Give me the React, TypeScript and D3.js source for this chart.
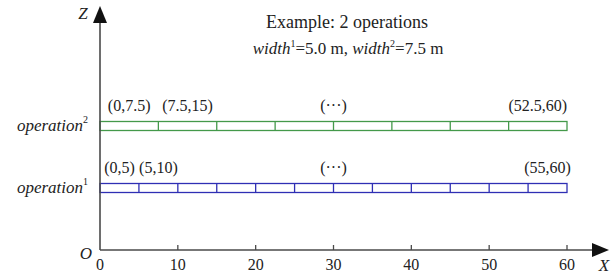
import React from 'react';
import * as d3 from 'd3';

// data
const opNames = ['operation', 'operation'];
const opIndex = [1, 2];
const opWidths = [5.0, 7.5];
const opColors = ['#2f2fb4', '#44994a'];
const opLabels = [
  ['(0,5)', '(5,10)', '(\u00b7\u00b7\u00b7)', '(55,60)'],
  ['(0,7.5)', '(7.5,15)', '(\u00b7\u00b7\u00b7)', '(52.5,60)'],
];
const xTicks = [0, 10, 20, 30, 40, 50, 60];
const X_MAX = 60;

const W = 614;
const H = 274;
const FONT = "'Liberation Serif', 'DejaVu Serif', 'Times New Roman', serif";
const AXIS = '#4a4a4a';

export default function App() {
  const x = d3.scaleLinear().domain([0, X_MAX]).range([100, 567]);
  const z = d3.scaleLinear().domain([0, 2]).range([250, 126]);
  const barH = 9;
  const x0 = x(0);
  const y0 = z(0);

  return (
    <svg width={W} height={H} style={{ position: 'absolute', left: 0, top: 0, fontFamily: FONT }}>
      <rect width={W} height={H} fill="#fff" />

      {/* title */}
      <text x={347} y={28} fontSize={18} textAnchor="middle" fill="#222">Example: 2 operations</text>
      <text x={348} y={54} fontSize={17} textAnchor="middle" fill="#222">
        <tspan fontStyle="italic">width</tspan>
        <tspan fontSize={10} dy={-7}>1</tspan>
        <tspan dy={7}>=5.0 m, </tspan>
        <tspan fontStyle="italic">width</tspan>
        <tspan fontSize={10} dy={-7}>2</tspan>
        <tspan dy={7}>=7.5 m</tspan>
      </text>

      {/* operations */}
      {opIndex.map((k, i) => {
        const w = opWidths[i];
        const n = Math.round(X_MAX / w);
        const bounds = d3.range(1, n).map(j => j * w);
        const cy = z(k);
        const top = cy - barH / 2;
        const labs = opLabels[i];
        const centers = [w / 2, w * 1.5, X_MAX / 2, X_MAX - w / 2];
        return (
          <g key={k}>
            <rect x={x(0)} y={top} width={x(X_MAX) - x(0)} height={barH}
              fill="none" stroke={opColors[i]} strokeWidth={1.3} />
            {bounds.map(b => (
              <line key={b} x1={x(b)} x2={x(b)} y1={top} y2={top + barH}
                stroke={opColors[i]} strokeWidth={1.3} />
            ))}
            {labs.map((t, j) => (
              <text key={j} x={x(centers[j])} y={top - 11} fontSize={16}
                textAnchor="middle" fill="#222">{t}</text>
            ))}
            <text x={88} y={cy + 5} fontSize={17} textAnchor="end" fill="#222">
              <tspan fontStyle="italic">{opNames[i]}</tspan>
              <tspan fontSize={10} dy={-8}>{k}</tspan>
            </text>
          </g>
        );
      })}

      {/* axes */}
      <line x1={x0} x2={x0} y1={y0} y2={22} stroke={AXIS} strokeWidth={1.6} />
      <path d={`M${x0},6 L${x0 + 7},23 L${x0 - 7},23 Z`} fill="#111" />
      <line x1={x0} x2={593} y1={y0} y2={y0} stroke={AXIS} strokeWidth={1.6} />
      <path d={`M609,${y0} L592,${y0 - 7} L592,${y0 + 7} Z`} fill="#111" />
      {xTicks.map(t => (
        <g key={t}>
          {t > 0 && <line x1={x(t)} x2={x(t)} y1={y0} y2={y0 - 5} stroke={AXIS} strokeWidth={1.3} />}
          <text x={x(t)} y={y0 + 20} fontSize={16} textAnchor="middle" fill="#222">{t}</text>
        </g>
      ))}

      <text x={83} y={19} fontSize={17} fontStyle="italic" textAnchor="middle" fill="#222">Z</text>
      <text x={86} y={259} fontSize={17} fontStyle="italic" textAnchor="middle" fill="#222">O</text>
      <text x={604} y={271} fontSize={17} fontStyle="italic" textAnchor="middle" fill="#222">X</text>
    </svg>
  );
}
